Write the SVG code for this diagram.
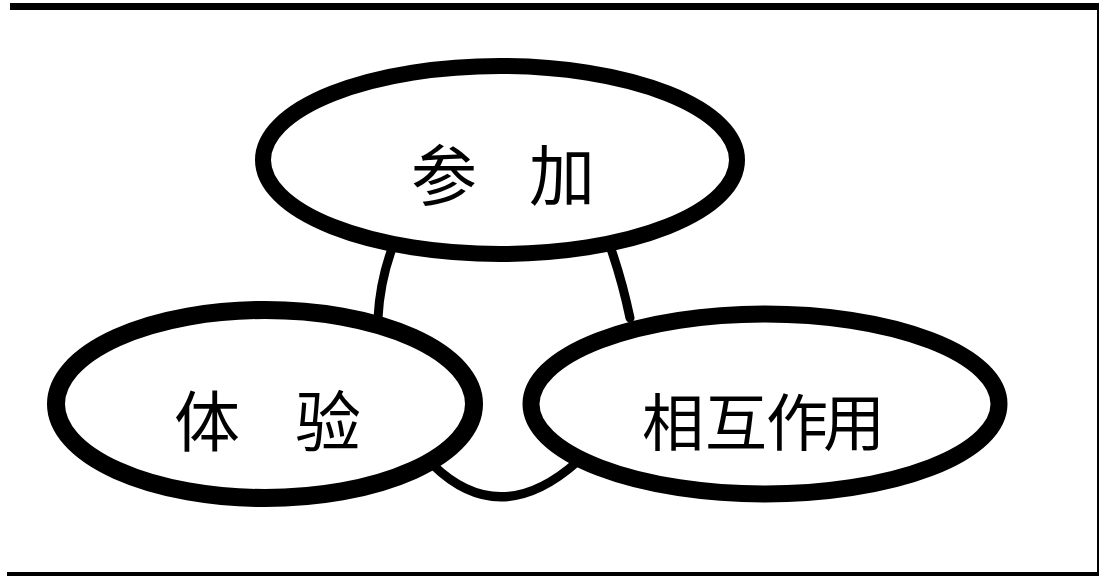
<svg xmlns="http://www.w3.org/2000/svg" width="1101" height="577" viewBox="0 0 1101 577">
<style>
.bg{fill:#ffffff}
.frame{fill:#000000}
.node{fill:#ffffff;stroke:#000000}
.conn{fill:none;stroke:#000000;stroke-width:9;stroke-linecap:round}
.label{font-family:"Noto Sans CJK SC","Noto Sans CJK JP",sans-serif;fill:#000000;text-anchor:middle}
</style>
<rect class="bg" x="0" y="0" width="1101" height="577"/>
<g id="frame">
<rect class="frame" x="10" y="3" width="1089" height="7"/>
<rect class="frame" x="1097" y="3" width="2" height="573"/>
<rect class="frame" x="7" y="572" width="1092" height="4"/>
</g>
<g id="connectors">
<path class="conn" d="M 393 246 Q 380 280 378 318"/>
<path class="conn" d="M 610 246 Q 622 280 630 318"/>
<path class="conn" d="M 433 465 Q 500 530 577 462"/>
</g>
<g id="node-canjia">
<ellipse class="node" cx="500" cy="160" rx="237" ry="94" stroke-width="16"/>
<text class="label" x="444 503 562" y="200" font-size="66">参 加</text>
</g>
<g id="node-tiyan">
<ellipse class="node" cx="265" cy="404" rx="209" ry="94" stroke-width="18"/>
<text class="label" x="207 267 328" y="446" font-size="66">体 验</text>
</g>
<g id="node-xianghuzuoyong">
<ellipse class="node" cx="765" cy="404" rx="234" ry="90" stroke-width="17"/>
<text class="label" x="673 736 797 854" y="446" font-size="62">相互作用</text>
</g>
</svg>
